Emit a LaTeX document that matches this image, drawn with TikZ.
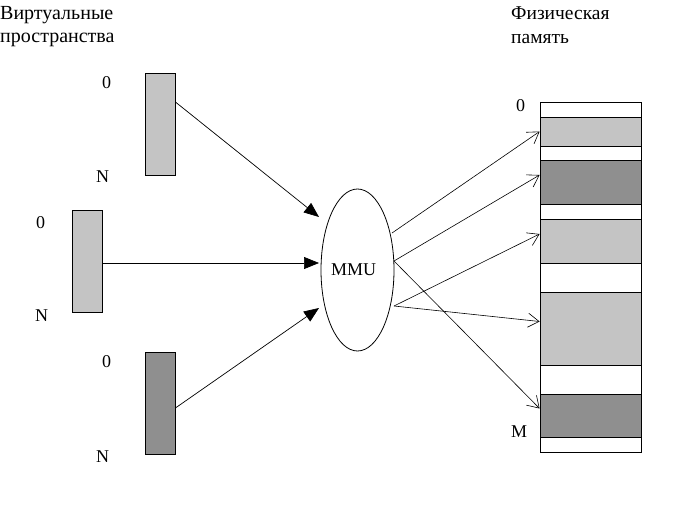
\documentclass[tikz,border=0pt]{standalone}
\usepackage{fontspec}
\setmainfont{Liberation Serif}
\usetikzlibrary{arrows.meta,shapes.geometric}
\definecolor{lightg}{HTML}{C4C4C4}
\definecolor{darkg}{HTML}{8F8F8F}
\begin{document}
\begin{tikzpicture}[x=1pt,y=-1pt,
  txt/.style={inner sep=0pt,anchor=base west,font=\fontsize{18}{21}\selectfont},
  head/.style={inner sep=0pt,anchor=base west,font=\fontsize{20}{23}\selectfont},
  seg/.style={draw,line width=0.8pt,minimum width=30pt,minimum height=102pt,inner sep=0pt},
  band/.style={draw,line width=0.8pt,minimum width=101pt,inner sep=0pt},
  inarrow/.style={line width=0.7pt,-{Triangle[length=15pt,width=12pt]}},
  outarrow/.style={line width=0.6pt,-{Straight Barb[length=11pt,width=14pt,line width=0.6pt]}}]
\useasboundingbox (0,0) rectangle (690,506);
% headers
\node[head] (h1) at (0,19) {Виртуальные};
\node[head] (h2) at (0,42) {пространства};
\node[head,font=\fontsize{19.5}{23}\selectfont] (h3) at (511,19) {Физическая};
\node[head,font=\fontsize{19.5}{23}\selectfont] (h4) at (511,43) {память};
% virtual segments
\node[seg,fill=lightg] (r1) at (160,124) {};
\node[seg,fill=lightg] (r2) at (87,261) {};
\node[seg,fill=darkg] (r3) at (160,403) {};
\node[txt] (z1) at (102,88) {0};
\node[txt] (n1) at (96,182) {N};
\node[txt] (z2) at (36,228) {0};
\node[txt] (n2) at (35,321) {N};
\node[txt] (z3) at (102,367) {0};
\node[txt] (n3) at (96,462) {N};
% MMU
\node[ellipse,draw,line width=0.8pt,minimum width=73pt,minimum height=162pt,inner sep=0pt,
  font=\fontsize{18}{21}\selectfont] (mmu) at (357.5,270) {\hspace{-8pt}MMU};
% physical memory
\node[band,minimum height=15pt] (m1) at (590.5,109.5) {};
\node[band,minimum height=29pt,fill=lightg] (m2) at (590.5,131.5) {};
\node[band,minimum height=14pt] (m3) at (590.5,153) {};
\node[band,minimum height=44pt,fill=darkg] (m4) at (590.5,182) {};
\node[band,minimum height=15pt] (m5) at (590.5,211.5) {};
\node[band,minimum height=44pt,fill=lightg] (m6) at (590.5,241) {};
\node[band,minimum height=29pt] (m7) at (590.5,277.5) {};
\node[band,minimum height=73pt,fill=lightg] (m8) at (590.5,328.5) {};
\node[band,minimum height=29pt] (m9) at (590.5,379.5) {};
\node[band,minimum height=43pt,fill=darkg] (m10) at (590.5,415.5) {};
\node[band,minimum height=15pt] (m11) at (590.5,444.5) {};
\node[txt] (z4) at (516,111) {0};
\node[txt] (mm) at (511,437) {M};
% arrow points near MMU
\coordinate (t1) at (319,217);
\coordinate (t2) at (319,263);
\coordinate (t3) at (319,308);
\coordinate (s1) at (392,233);
\coordinate (s2) at (394,261);
\coordinate (s3) at (394,306);
% incoming arrows
\draw[inarrow] ([yshift=22pt]r1.east) -- (t1);
\draw[inarrow] ([yshift=-2pt]r2.east) -- (t2);
\draw[inarrow] ([yshift=-5pt]r3.east) -- (t3);
% outgoing arrows
\draw[outarrow] (s1) -- (m2.west);
\draw[outarrow] (s2) -- ([yshift=7pt]m4.west);
\draw[outarrow] (s3) -- ([yshift=7pt]m6.west);
\draw[outarrow] (s3) -- ([yshift=7pt]m8.west);
\draw[outarrow] (s2) -- ([yshift=7pt]m10.west);
\end{tikzpicture}
\end{document}
